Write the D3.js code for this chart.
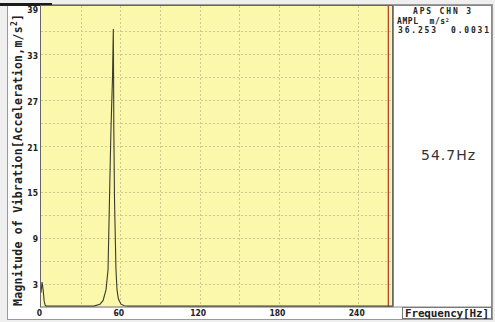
<!DOCTYPE html>
<html>
<head>
<meta charset="utf-8">
<script src="https://cdn.jsdelivr.net/npm/d3@7"></script>
<style>
html, body { margin: 0; padding: 0; background: #efefef; }
svg { display: block; }
text { white-space: pre; }
</style>
</head>
<body>
<svg id="chart" width="495" height="322"></svg>
<script>
(function()
{
    // spectrum (Hz, m/s^2)
    const freqs = [0, 0.8, 1.6, 2.4, 3.2, 4, 40, 44.6, 47, 49.2, 50.7, 51.8, 52.9, 54.1, 54.7, 54.9, 55.1, 55.6, 56.7, 57.5, 58.5, 60.5, 63, 66, 265.5];
    const ampls = [1.8, 3.2, 2.2, 0.7, 0.15, 0.05, 0.05, 0.3, 0.8, 2.2, 4.8, 14, 23, 30, 36.253, 30, 23, 14, 4.8, 2.2, 1.0, 0.3, 0.1, 0.05, 0.05];
    const yTicks = [3, 9, 15, 21, 27, 33, 39];
    const xTicks = [0, 60, 120, 180, 240];
    const peakFreq = 54.7;
    const peakAmpl = 36.253;
    const peakPhase = 0.0031;
    const cursorFreq = 262.7;

    const PLOT_LEFT = 41;
    const PLOT_RIGHT = 392;
    const PLOT_TOP = 6;
    const PLOT_BOTTOM = 306.5;
    const FONT = "'DejaVu Sans Mono', monospace";

    var svg = d3.select("#chart");

    var x = d3.scaleLinear().domain([0, 265.5]).range([PLOT_LEFT, PLOT_RIGHT]);
    var y = d3.scaleLinear().domain([0, 39]).range([PLOT_BOTTOM, 8]);

    // window frame
    svg.append("rect")
        .attr("x", 7.5).attr("y", 4.5)
        .attr("width", 485).attr("height", 315)
        .attr("fill", "white")
        .attr("stroke", "#9a9a9a");
    svg.append("rect")
        .attr("x", 0).attr("y", 3)
        .attr("width", 52).attr("height", 3)
        .attr("fill", "#1a1a1a");

    // plot background
    svg.append("rect")
        .attr("x", PLOT_LEFT).attr("y", PLOT_TOP)
        .attr("width", PLOT_RIGHT - PLOT_LEFT)
        .attr("height", PLOT_BOTTOM - PLOT_TOP)
        .attr("fill", "#fbf7ab");

    // grid, every 30 Hz and every 3 m/s^2
    var grid = svg.append("g").attr("class", "grid");
    grid.selectAll("line.gx")
        .data(d3.range(30, 265, 30))
        .enter()
        .append("line")
        .attr("class", "gx")
        .attr("x1", function(d) { return Math.round(x(d)) + 0.5; })
        .attr("x2", function(d) { return Math.round(x(d)) + 0.5; })
        .attr("y1", PLOT_TOP)
        .attr("y2", PLOT_BOTTOM);
    grid.selectAll("line.gy")
        .data(d3.range(3, 39, 3))
        .enter()
        .append("line")
        .attr("class", "gy")
        .attr("x1", PLOT_LEFT)
        .attr("x2", PLOT_RIGHT)
        .attr("y1", function(d) { return Math.round(y(d)) + 0.5; })
        .attr("y2", function(d) { return Math.round(y(d)) + 0.5; });
    grid.selectAll("line")
        .attr("stroke", "#cdc792")
        .attr("stroke-width", 1)
        .attr("stroke-dasharray", "2,2");

    // cursor
    svg.append("line")
        .attr("x1", x(cursorFreq)).attr("x2", x(cursorFreq))
        .attr("y1", PLOT_TOP).attr("y2", PLOT_BOTTOM)
        .attr("stroke", "#b8322a")
        .attr("stroke-width", 1.2);

    // spectrum trace
    var points = freqs.map(function(f, i) { return [f, ampls[i]]; });
    var line = d3.line()
        .x(function(d) { return x(d[0]); })
        .y(function(d) { return y(d[1]); });
    svg.append("path")
        .datum(points)
        .attr("d", line)
        .attr("fill", "none")
        .attr("stroke", "#3a3a30")
        .attr("stroke-width", 1.1);

    // plot border
    svg.append("rect")
        .attr("x", PLOT_LEFT - 0.5).attr("y", PLOT_TOP - 0.5)
        .attr("width", PLOT_RIGHT - PLOT_LEFT + 1)
        .attr("height", PLOT_BOTTOM - PLOT_TOP + 1)
        .attr("fill", "none")
        .attr("stroke", "#666");

    // axes (labels only)
    var yAxis = svg.append("g")
        .attr("transform", "translate(" + (PLOT_LEFT - 3) + ",1.5)")
        .call(d3.axisLeft(y).tickValues(yTicks).tickSize(0).tickPadding(0));
    var xAxis = svg.append("g")
        .attr("transform", "translate(-2," + (PLOT_BOTTOM + 1) + ")")
        .call(d3.axisBottom(x).tickValues(xTicks).tickSize(0).tickPadding(2));
    [yAxis, xAxis].forEach(function(a) {
        a.select(".domain").remove();
        a.selectAll("text")
            .attr("font-family", "'DejaVu Sans Condensed', 'DejaVu Sans', sans-serif")
            .attr("font-weight", "bold")
            .attr("font-size", "8.5px")
            .attr("fill", "#222");
    });

    // y axis title
    var title = svg.append("text")
        .attr("transform", "translate(22,306) rotate(-90)")
        .attr("font-family", FONT)
        .attr("font-weight", "bold")
        .attr("font-size", "11.5px")
        .attr("fill", "#222")
        .attr("textLength", 292)
        .attr("lengthAdjust", "spacing");
    title.append("tspan").text("Magnitude of Vibration[Acceleration,m/s");
    title.append("tspan").attr("dy", -5).attr("font-size", "8px").text("2");
    title.append("tspan").attr("dy", 5).text("]");

    // right info panel
    svg.append("rect")
        .attr("x", 393.5).attr("y", PLOT_TOP - 0.5)
        .attr("width", 98).attr("height", PLOT_BOTTOM - PLOT_TOP + 1)
        .attr("fill", "white")
        .attr("stroke", "#888");

    var info = svg.append("g")
        .attr("font-family", FONT)
        .attr("font-weight", "bold")
        .attr("fill", "#222");
    info.append("text")
        .attr("x", 413).attr("y", 14)
        .attr("font-size", "8px")
        .attr("textLength", 58)
        .attr("lengthAdjust", "spacing")
        .text("APS CHN 3");
    var ampl = info.append("text")
        .attr("x", 397).attr("y", 23.5)
        .attr("font-size", "8px")
        .attr("letter-spacing", "0.6px");
    ampl.append("tspan").text("AMPL  m/s");
    ampl.append("tspan").attr("dy", -2).attr("font-size", "5px").text("2");
    info.append("text")
        .attr("x", 398).attr("y", 33)
        .attr("font-size", "8px")
        .attr("textLength", 91)
        .attr("lengthAdjust", "spacing")
        .text(d3.format(".3f")(peakAmpl) + "  " + d3.format(".4f")(peakPhase));

    svg.append("text")
        .attr("x", 448).attr("y", 160)
        .attr("text-anchor", "middle")
        .attr("font-family", "'DejaVu Sans', sans-serif")
        .attr("font-size", "14px")
        .attr("fill", "#333")
        .attr("textLength", 54)
        .text(peakFreq.toFixed(1) + "Hz");

    // x axis title box
    svg.append("rect")
        .attr("x", 402.5).attr("y", 307.5)
        .attr("width", 89).attr("height", 11)
        .attr("fill", "white")
        .attr("stroke", "#777");
    svg.append("text")
        .attr("x", 447).attr("y", 317)
        .attr("text-anchor", "middle")
        .attr("font-family", FONT)
        .attr("font-weight", "bold")
        .attr("font-size", "11px")
        .attr("fill", "#222")
        .attr("textLength", 84)
        .attr("lengthAdjust", "spacing")
        .text("Frequency[Hz]");
})();
</script>
</body>
</html>
